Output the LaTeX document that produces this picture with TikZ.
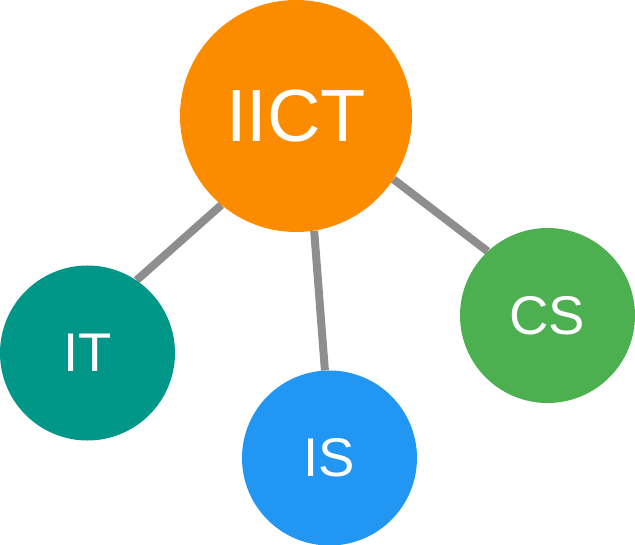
\documentclass[tikz,border=0pt]{standalone}
\usepackage{fontspec}
\setmainfont{Liberation Sans}
\usetikzlibrary{backgrounds}
\definecolor{cOrange}{HTML}{FB8C00}
\definecolor{cTeal}{HTML}{009688}
\definecolor{cBlue}{HTML}{2196F3}
\definecolor{cGreen}{HTML}{4CAF50}
\definecolor{cGray}{HTML}{8E8E8E}
\tikzset{
  bubble/.style={circle, inner sep=0pt, text=white, fill=#1},
  bigbubble/.style={bubble=#1, minimum size=232pt, font=\fontsize{74}{74}\selectfont},
  smallbubble/.style={bubble=#1, minimum size=175pt, font=\fontsize{54.5}{54.5}\selectfont},
  link/.style={draw=cGray, line width=8pt}
}
\begin{document}
\begin{tikzpicture}[x=1pt,y=-1pt]
\useasboundingbox (0,0) rectangle (635,545);
\node[bigbubble=cOrange] (iict) at (296,116) {IICT};
\node[smallbubble=cTeal] (it) at (87.5,353) {IT};
\node[smallbubble=cBlue] (is) at (329.5,458) {IS};
\node[smallbubble=cGreen] (cs) at (547.5,315.5) {CS};
\begin{scope}[on background layer]
\draw[link] (iict.-130) -- (it.56);
\draw[link] (iict.-81.5) -- (is.93.6);
\draw[link] (iict.-33.4) -- (cs.133.6);
\end{scope}
\end{tikzpicture}
\end{document}
